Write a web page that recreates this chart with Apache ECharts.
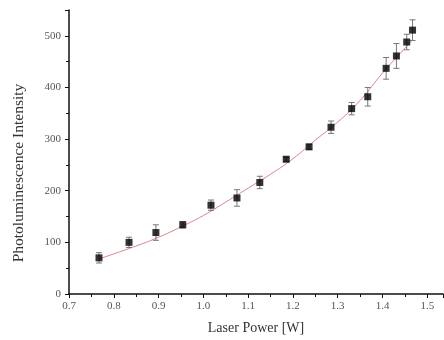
<!DOCTYPE html>
<html>
<head>
<meta charset="utf-8">
<script src="https://cdn.jsdelivr.net/npm/echarts@6/dist/echarts.min.js"></script>
<style>
  html, body { margin: 0; padding: 0; background: #fff; }
  #chart { width: 444px; height: 340px; }
</style>
</head>
<body>
<div id="chart"></div>
<script>
// measured points (laser power, intensity, error)
const power = [0.767, 0.834, 0.894, 0.954, 1.017, 1.075, 1.126, 1.185, 1.236, 1.285, 1.331, 1.367, 1.408, 1.431, 1.454, 1.467];
const intensity = [70, 100, 119, 134, 172, 186, 216, 261, 285, 323, 359, 382, 437, 461, 488, 511];
const err = [10, 10, 15, 6, 10, 16, 12, 4, 5, 12, 12, 18, 21, 24, 15, 20];

// fitted curve
const fitX = [0.767, 0.85, 0.9, 0.95, 1.0, 1.05, 1.1, 1.15, 1.2, 1.25, 1.3, 1.35, 1.4, 1.45, 1.467];
const fitY = [68, 93, 110, 130, 152, 178, 205, 232, 262, 298, 333, 375, 428, 476, 492];

const font = '"Liberation Serif", "DejaVu Serif", serif';

const points = power.map((p, i) => [p, intensity[i]]);
const bars = power.map((p, i) => [p, intensity[i] - err[i], intensity[i] + err[i]]);
const fit = fitX.map((x, i) => [x, fitY[i]]);

const chart = echarts.init(document.getElementById('chart'));

const option = {
    animation: false,
    grid: { left: 69, right: 1, top: 10, bottom: 46 },
    xAxis: {
        type: 'value',
        min: 0.7,
        max: 1.535,
        interval: 0.1,
        name: 'Laser Power [W]',
        nameLocation: 'middle',
        nameGap: 27,
        nameTextStyle: { fontFamily: font, fontSize: 14, color: '#333' },
        axisLine: { lineStyle: { color: '#111', width: 1.5 } },
        axisTick: { inside: false, length: 4, lineStyle: { color: '#111' } },
        minorTick: { show: true, splitNumber: 2, length: 3, lineStyle: { color: '#111' } },
        axisLabel: {
            fontFamily: font, fontSize: 11, color: '#555', margin: 7,
            showMaxLabel: false,
            formatter: v => v.toFixed(1)
        },
        splitLine: { show: false }
    },
    yAxis: {
        type: 'value',
        min: 0,
        max: 550,
        interval: 100,
        name: 'Photoluminescence Intensity',
        nameLocation: 'middle',
        nameGap: 42,
        nameTextStyle: { fontFamily: font, fontSize: 15.5, color: '#333', padding: [0, 42, 0, 0] },
        axisLine: { show: true, lineStyle: { color: '#111', width: 1.5 } },
        axisTick: { show: true, length: 4, lineStyle: { color: '#111' } },
        minorTick: { show: true, splitNumber: 2, length: 3, lineStyle: { color: '#111' } },
        axisLabel: { fontFamily: font, fontSize: 11, color: '#555', margin: 8, showMaxLabel: false },
        splitLine: { show: false }
    },
    series: [
        {
            type: 'line',
            data: fit,
            smooth: true,
            showSymbol: false,
            lineStyle: { color: '#d9848c', width: 1 },
            z: 1
        },
        {
            type: 'custom',
            data: bars,
            z: 2,
            renderItem: function (params, api) {
                const lo = api.coord([api.value(0), api.value(1)]);
                const hi = api.coord([api.value(0), api.value(2)]);
                const cap = 3;
                const style = { stroke: '#777', lineWidth: 1 };
                return {
                    type: 'group',
                    children: [
                        { type: 'line', shape: { x1: lo[0], y1: lo[1], x2: hi[0], y2: hi[1] }, style: style },
                        { type: 'line', shape: { x1: lo[0] - cap, y1: lo[1], x2: lo[0] + cap, y2: lo[1] }, style: style },
                        { type: 'line', shape: { x1: hi[0] - cap, y1: hi[1], x2: hi[0] + cap, y2: hi[1] }, style: style }
                    ]
                };
            }
        },
        {
            type: 'scatter',
            data: points,
            symbol: 'rect',
            symbolSize: 7,
            itemStyle: { color: '#000' },
            z: 3
        }
    ]
};

chart.setOption(option);
</script>
</body>
</html>
